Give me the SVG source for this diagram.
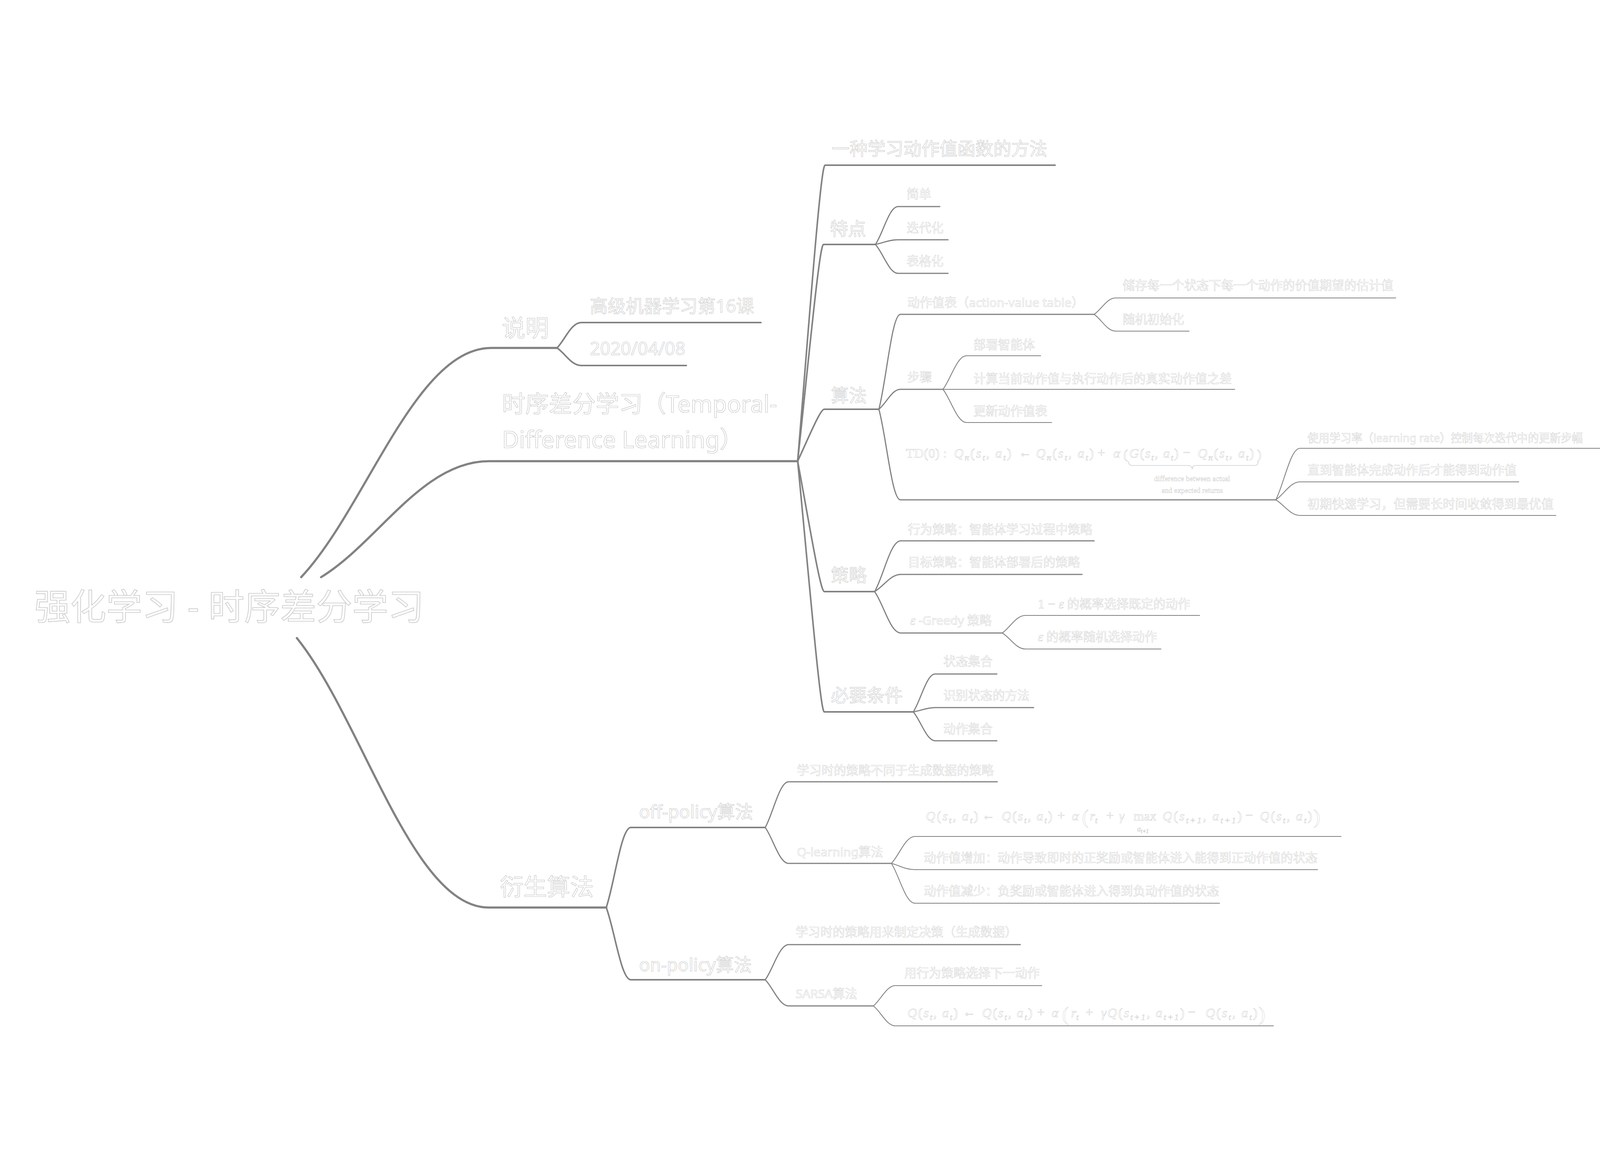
<svg xmlns="http://www.w3.org/2000/svg" width="4198" height="2968" viewBox="0 0 4198 2968">
<style>
text{fill:#ffffff;stroke:#c9c9c9;font-family:"Noto Sans","Noto Sans CJK SC",sans-serif}
.r{font-size:92px;stroke-width:1.6}
.l1{font-size:60px;stroke-width:1.2}
.l2{font-size:46px;stroke-width:1}
.l3{font-size:31.5px;stroke-width:0.7}
.m{font-family:"Liberation Serif","DejaVu Serif",serif;font-size:34px;stroke-width:0.7}
.i{font-style:italic}
.s{font-size:22px;font-style:italic}
.big{font-size:50px}
.note{font-family:"Liberation Serif","DejaVu Serif",serif;font-size:19px;stroke-width:0.6;text-anchor:middle}
.cn path{fill:none;stroke:#828282;stroke-linecap:round;stroke-linejoin:round}
.w1{stroke-width:5.5}
.w2{stroke-width:4}
.w3{stroke-width:3}
.w4{stroke-width:2.2}
.brace{fill:none;stroke:#cfcfcf;stroke-width:1.5}
</style>
<rect width="4198" height="2968" fill="#ffffff"/>

<g id="connectors" class="cn">
  <path class="w1" d="M771,1478 C937,1302 1063,891 1258,891 H1426"/>
  <path class="w1" d="M822,1478 C968,1389 1080,1181 1252,1181 H2042"/>
  <path class="w1" d="M760,1634 C927,1841 1055,2324 1251,2324 H1552"/>

  <path class="w2" d="M1426,891 C1446,871 1462,826 1488,826 H1948"/>
  <path class="w2" d="M1426,891 C1446,904 1462,936 1488,936 H1757"/>

  <path class="w2" d="M2042,1181 C2073,802 2101,423 2112,423 H2701"/>
  <path class="w2" d="M2042,1181 C2072,903 2098,626 2108,626 H2241"/>
  <path class="w2" d="M2042,1181 C2073,1114 2100,1048 2110,1048 H2250"/>
  <path class="w2" d="M2042,1181 C2073,1348 2100,1515 2110,1515 H2239"/>
  <path class="w2" d="M2042,1181 C2073,1502 2100,1823 2110,1823 H2338"/>

  <path class="w3" d="M2241,626 C2261,597 2276,529 2299,529 H2406"/>
  <path class="w3" d="M2241,626 C2261,622 2276,614 2299,614 H2427"/>
  <path class="w3" d="M2241,626 C2261,648 2276,700 2299,700 H2427"/>

  <path class="w3" d="M2250,1048 C2269,975 2283,805 2305,805 H2801"/>
  <path class="w3" d="M2250,1048 C2269,1033 2283,997 2305,997 H2414"/>
  <path class="w3" d="M2250,1048 C2269,1118 2283,1280 2305,1280 H3266"/>

  <path class="w4" d="M2801,805 C2820,792 2834,763 2856,763 H3573"/>
  <path class="w4" d="M2801,805 C2820,818 2834,848 2856,848 H3044"/>

  <path class="w4" d="M2414,997 C2434,971 2450,911 2474,911 H2664"/>
  <path class="w4" d="M2414,997 C2434,997 2450,997 2474,997 H3161"/>
  <path class="w4" d="M2414,997 C2434,1022 2450,1082 2474,1082 H2692"/>

  <path class="w4" d="M3266,1280 C3287,1240 3303,1148 3328,1148 H4140"/>
  <path class="w4" d="M3266,1280 C3287,1266 3303,1234 3328,1234 H3888"/>
  <path class="w4" d="M3266,1280 C3287,1292 3303,1320 3328,1320 H3983"/>

  <path class="w3" d="M2239,1515 C2262,1476 2279,1385 2306,1385 H2801"/>
  <path class="w3" d="M2239,1515 C2262,1502 2279,1471 2306,1471 H2770"/>
  <path class="w3" d="M2239,1515 C2262,1547 2279,1621 2306,1621 H2566"/>

  <path class="w4" d="M2566,1621 C2586,1607 2601,1576 2625,1576 H3071"/>
  <path class="w4" d="M2566,1621 C2586,1633 2601,1662 2625,1662 H2972"/>

  <path class="w3" d="M2338,1823 C2357,1794 2372,1726 2394,1726 H2552"/>
  <path class="w3" d="M2338,1823 C2357,1820 2372,1812 2394,1812 H2646"/>
  <path class="w3" d="M2338,1823 C2357,1845 2372,1897 2394,1897 H2552"/>

  <path class="w2" d="M1552,2324 C1573,2262 1590,2119 1615,2119 H1959"/>
  <path class="w2" d="M1552,2324 C1573,2380 1590,2509 1615,2509 H1959"/>

  <path class="w3" d="M1959,2119 C1979,2084 1995,2002 2019,2002 H2553"/>
  <path class="w3" d="M1959,2119 C1979,2147 1995,2211 2019,2211 H2282"/>

  <path class="w4" d="M2282,2211 C2302,2190 2318,2142 2342,2142 H3433"/>
  <path class="w4" d="M2282,2211 C2302,2216 2318,2227 2342,2227 H3373"/>
  <path class="w4" d="M2282,2211 C2302,2242 2318,2313 2342,2313 H3122"/>

  <path class="w3" d="M1959,2509 C1979,2482 1995,2419 2019,2419 H2612"/>
  <path class="w3" d="M1959,2509 C1979,2529 1995,2576 2019,2576 H2236"/>

  <path class="w4" d="M2236,2576 C2255,2560 2270,2524 2292,2524 H2667"/>
  <path class="w4" d="M2236,2576 C2255,2591 2270,2627 2292,2627 H3260"/>
</g>

<g id="root"><text class="r" x="88" y="1587">强化学习 - 时序差分学习</text></g>

<g id="n-shuoming"><text class="l1" x="1285" y="862">说明</text></g>
<g id="n-course"><text class="l2" x="1510" y="800">高级机器学习第16课</text></g>
<g id="n-date"><text class="l2" x="1510" y="909">2020/04/08</text></g>

<g id="n-td"><text class="l1" x="1285" y="1056">时序差分学习（Temporal-</text><text class="l1" x="1285" y="1147">Difference Learning）</text></g>

<g id="n-method"><text class="l2" x="2129" y="397">一种学习动作值函数的方法</text></g>

<g id="n-features"><text class="l2" x="2125" y="602">特点</text></g>
<g id="n-simple"><text class="l3" x="2321" y="508">简单</text></g>
<g id="n-iter"><text class="l3" x="2321" y="595">迭代化</text></g>
<g id="n-table"><text class="l3" x="2321" y="680">表格化</text></g>

<g id="n-algo"><text class="l2" x="2127" y="1029">算法</text></g>
<g id="n-avt"><text class="l3" x="2323" y="786">动作值表（action-value table）</text></g>
<g id="n-store"><text class="l3" x="2874" y="742">储存每一个状态下每一个动作的价值期望的估计值</text></g>
<g id="n-init"><text class="l3" x="2874" y="829">随机初始化</text></g>
<g id="n-steps"><text class="l3" x="2323" y="977">步骤</text></g>
<g id="n-deploy"><text class="l3" x="2492" y="894">部署智能体</text></g>
<g id="n-calc"><text class="l3" x="2492" y="981">计算当前动作值与执行动作后的真实动作值之差</text></g>
<g id="n-update"><text class="l3" x="2492" y="1064">更新动作值表</text></g>

<g id="n-td0">
  <text class="m" x="2319" y="1172" textLength="105">TD(0) :</text>
  <text class="m" x="2442" y="1172" textLength="147"><tspan class="i">Q</tspan><tspan class="s" dy="7">π</tspan><tspan dy="-7">(</tspan><tspan class="i">s</tspan><tspan class="s" dy="7">t</tspan><tspan dy="-7">, </tspan><tspan class="i">a</tspan><tspan class="s" dy="7">t</tspan><tspan dy="-7">)</tspan></text>
  <text class="m" x="2607" y="1170">←</text>
  <text class="m" x="2652" y="1172" textLength="148"><tspan class="i">Q</tspan><tspan class="s" dy="7">π</tspan><tspan dy="-7">(</tspan><tspan class="i">s</tspan><tspan class="s" dy="7">t</tspan><tspan dy="-7">, </tspan><tspan class="i">a</tspan><tspan class="s" dy="7">t</tspan><tspan dy="-7">)</tspan></text>
  <text class="m" x="2810" y="1170">+</text>
  <text class="m i" x="2850" y="1172">α</text>
  <text class="m" x="2876" y="1175" font-size="40">(</text>
  <text class="m" x="2891" y="1172" textLength="126"><tspan class="i">G</tspan>(<tspan class="i">s</tspan><tspan class="s" dy="7">t</tspan><tspan dy="-7">, </tspan><tspan class="i">a</tspan><tspan class="s" dy="7">t</tspan><tspan dy="-7">)</tspan></text>
  <text class="m" x="3028" y="1170">−</text>
  <text class="m" x="3066" y="1172" textLength="144"><tspan class="i">Q</tspan><tspan class="s" dy="7">π</tspan><tspan dy="-7">(</tspan><tspan class="i">s</tspan><tspan class="s" dy="7">t</tspan><tspan dy="-7">, </tspan><tspan class="i">a</tspan><tspan class="s" dy="7">t</tspan><tspan dy="-7">)</tspan></text>
  <text class="m" x="3218" y="1175" font-size="40">)</text>
  <path class="brace" d="M2889,1182 Q2889,1192 2899,1192 H3042 Q3052,1192 3052,1202 Q3052,1192 3062,1192 H3211 Q3221,1192 3221,1182"/>
  <text class="note" x="3052" y="1232">difference between actual</text>
  <text class="note" x="3052" y="1262">and expected returns</text>
</g>
<g id="n-lr"><text class="l3" x="3347" y="1132" font-size="29.5" textLength="705" lengthAdjust="spacingAndGlyphs" style="font-size:29.5px">使用学习率（learning rate）控制每次迭代中的更新步幅</text></g>
<g id="n-until"><text class="l3" x="3347" y="1215">直到智能体完成动作后才能得到动作值</text></g>
<g id="n-early"><text class="l3" x="3347" y="1302">初期快速学习，但需要长时间收敛得到最优值</text></g>

<g id="n-policy"><text class="l2" x="2127" y="1489">策略</text></g>
<g id="n-behav"><text class="l3" x="2324" y="1367">行为策略：智能体学习过程中策略</text></g>
<g id="n-target"><text class="l3" x="2324" y="1451">目标策略：智能体部署后的策略</text></g>
<g id="n-egreedy"><text class="l3" x="2330" y="1600"><tspan class="m i">ε</tspan><tspan dx="8">-Greedy 策略</tspan></text></g>
<g id="n-exploit"><text class="l3" x="2657" y="1558"><tspan class="m">1 − </tspan><tspan class="m i">ε</tspan> 的概率选择既定的动作</text></g>
<g id="n-explore"><text class="l3" x="2657" y="1642"><tspan class="m i">ε</tspan> 的概率随机选择动作</text></g>

<g id="n-req"><text class="l2" x="2127" y="1797">必要条件</text></g>
<g id="n-states"><text class="l3" x="2415" y="1705">状态集合</text></g>
<g id="n-ident"><text class="l3" x="2415" y="1792">识别状态的方法</text></g>
<g id="n-actions"><text class="l3" x="2415" y="1878">动作集合</text></g>

<g id="n-derived"><text class="l1" x="1280" y="2293">衍生算法</text></g>
<g id="n-off"><text class="l2" x="1636" y="2095">off-policy算法</text></g>
<g id="n-offdesc"><text class="l3" x="2040" y="1984">学习时的策略不同于生成数据的策略</text></g>
<g id="n-qlearn"><text class="l3" x="2040" y="2193">Q-learning算法</text></g>
<g id="n-qformula">
  <text class="m" x="2370" y="2101" textLength="134"><tspan class="i">Q</tspan>(<tspan class="i">s</tspan><tspan class="s" dy="7">t</tspan><tspan dy="-7">, </tspan><tspan class="i">a</tspan><tspan class="s" dy="7">t</tspan><tspan dy="-7">)</tspan></text>
  <text class="m" x="2513" y="2099">←</text>
  <text class="m" x="2564" y="2101" textLength="130"><tspan class="i">Q</tspan>(<tspan class="i">s</tspan><tspan class="s" dy="7">t</tspan><tspan dy="-7">, </tspan><tspan class="i">a</tspan><tspan class="s" dy="7">t</tspan><tspan dy="-7">)</tspan></text>
  <text class="m" x="2707" y="2099">+</text>
  <text class="m i" x="2744" y="2101">α</text>
  <text class="m big" x="2770" y="2109">(</text>
  <text class="m" x="2790" y="2101"><tspan class="i">r</tspan><tspan class="s" dy="7">t</tspan></text>
  <text class="m" x="2832" y="2099">+</text>
  <text class="m i" x="2865" y="2101">γ</text>
  <text class="m" x="2902" y="2101">max<tspan class="i" x="2911" y="2129" font-size="19">a</tspan><tspan font-size="14" dy="4" class="i">t+1</tspan></text>
  <text class="m" x="2976" y="2101" textLength="203"><tspan class="i">Q</tspan>(<tspan class="i">s</tspan><tspan class="s" dy="7">t+1</tspan><tspan dy="-7">, </tspan><tspan class="i">a</tspan><tspan class="s" dy="7">t+1</tspan><tspan dy="-7">)</tspan></text>
  <text class="m" x="3188" y="2099">−</text>
  <text class="m" x="3225" y="2101" textLength="134"><tspan class="i">Q</tspan>(<tspan class="i">s</tspan><tspan class="s" dy="7">t</tspan><tspan dy="-7">, </tspan><tspan class="i">a</tspan><tspan class="s" dy="7">t</tspan><tspan dy="-7">)</tspan></text>
  <text class="m big" x="3363" y="2109">)</text>
</g>
<g id="n-qinc"><text class="l3" x="2365" y="2208">动作值增加：动作导致即时的正奖励或智能体进入能得到正动作值的状态</text></g>
<g id="n-qdec"><text class="l3" x="2365" y="2293">动作值减少：负奖励或智能体进入得到负动作值的状态</text></g>

<g id="n-on"><text class="l2" x="1636" y="2487">on-policy算法</text></g>
<g id="n-ondesc"><text class="l3" x="2037" y="2398">学习时的策略用来制定决策（生成数据）</text></g>
<g id="n-sarsa"><text class="l3" x="2037" y="2556">SARSA算法</text></g>
<g id="n-next"><text class="l3" x="2315" y="2503">用行为策略选择下一动作</text></g>
<g id="n-sformula">
  <text class="m" x="2323" y="2605" textLength="129"><tspan class="i">Q</tspan>(<tspan class="i">s</tspan><tspan class="s" dy="7">t</tspan><tspan dy="-7">, </tspan><tspan class="i">a</tspan><tspan class="s" dy="7">t</tspan><tspan dy="-7">)</tspan></text>
  <text class="m" x="2464" y="2603">←</text>
  <text class="m" x="2514" y="2605" textLength="129"><tspan class="i">Q</tspan>(<tspan class="i">s</tspan><tspan class="s" dy="7">t</tspan><tspan dy="-7">, </tspan><tspan class="i">a</tspan><tspan class="s" dy="7">t</tspan><tspan dy="-7">)</tspan></text>
  <text class="m" x="2655" y="2603">+</text>
  <text class="m i" x="2692" y="2605">α</text>
  <text class="m big" x="2719" y="2614">(</text>
  <text class="m" x="2742" y="2605"><tspan class="i">r</tspan><tspan class="s" dy="7">t</tspan></text>
  <text class="m" x="2779" y="2603">+</text>
  <text class="m i" x="2819" y="2605">γ</text>
  <text class="m" x="2835" y="2605" textLength="197"><tspan class="i">Q</tspan>(<tspan class="i">s</tspan><tspan class="s" dy="7">t+1</tspan><tspan dy="-7">, </tspan><tspan class="i">a</tspan><tspan class="s" dy="7">t+1</tspan><tspan dy="-7">)</tspan></text>
  <text class="m" x="3041" y="2603">−</text>
  <text class="m" x="3086" y="2605" textLength="133"><tspan class="i">Q</tspan>(<tspan class="i">s</tspan><tspan class="s" dy="7">t</tspan><tspan dy="-7">, </tspan><tspan class="i">a</tspan><tspan class="s" dy="7">t</tspan><tspan dy="-7">)</tspan></text>
  <text class="m big" x="3222" y="2614">)</text>
</g>
</svg>
